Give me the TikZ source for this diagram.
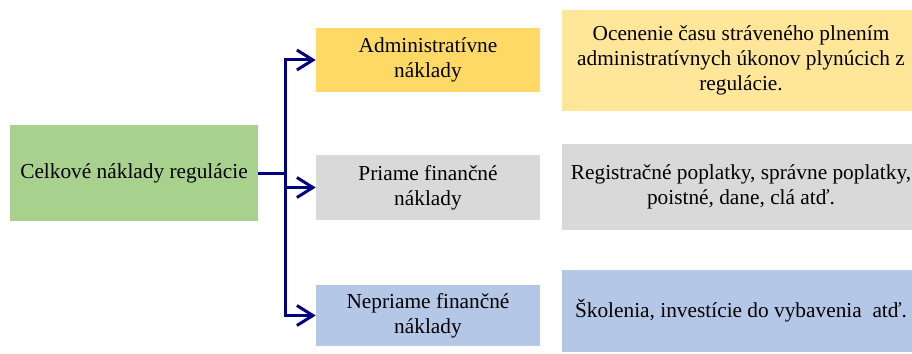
\documentclass[tikz,border=0pt]{standalone}
\usepackage{fontspec}
\setmainfont{Liberation Serif}
\newfontfamily\timesfont{Liberation Serif}
\usetikzlibrary{arrows.meta}

\definecolor{celkgreen}{HTML}{A9D18E}
\definecolor{admyellow}{HTML}{FFD966}
\definecolor{admlight}{HTML}{FFE699}
\definecolor{prigray}{HTML}{D9D9D9}
\definecolor{nepriblue}{HTML}{B4C7E7}
\definecolor{linknavy}{HTML}{000080}

\begin{document}
\begin{tikzpicture}[
    x=0.75pt, y=-0.75pt,
    every node/.style={rectangle, align=center, inner sep=0pt,
        font=\timesfont\fontsize{16}{19}\selectfont},
    box/.style={minimum width=168pt, minimum height=48pt},
    wide/.style={minimum width=268.5pt},
    link/.style={line width=2.25pt, draw=linknavy},
    arrow/.style={link, -{Straight Barb[length=12pt,width=15pt,line width=2.25pt]}}
]
\useasboundingbox (0,0) rectangle (912,353);
\clip (0,0) rectangle (912,353);

\node (celk) [fill=celkgreen, minimum width=186pt, minimum height=72pt] at (134,173) {Celkové náklady regulácie};

\node (adm) [box, fill=admyellow] at (428,60) {Administratívne\\náklady};
\node (pri) [box, fill=prigray, minimum height=48.75pt] at (428,187.5) {Priame finančné\\náklady};
\node (nepri) [box, fill=nepriblue, minimum height=45.75pt] at (428,315.5) {Nepriame finančné\\náklady};

\node (admtxt) [wide, fill=admlight, minimum height=75.75pt] at (741,60.5) {Ocenenie času stráveného plnením\\administratívnych úkonov plynúcich z\\regulácie.};
\node (pritxt) [wide, fill=prigray, minimum height=64.5pt] at (741,187) {Registračné poplatky, správne poplatky,\\poistné, dane, clá atď.};
\node (nepritxt) [wide, fill=nepriblue, minimum height=61.5pt] at (741,311) {Školenia, investície do vybavenia\ \ atď.};

\coordinate (split) at (285.5,173);
\draw[link] (celk.east) -- (split);
\draw[arrow] (split) |- (adm.west);
\draw[arrow] (split) |- (pri.west);
\draw[arrow] (split) |- (nepri.west);

\end{tikzpicture}
\end{document}
